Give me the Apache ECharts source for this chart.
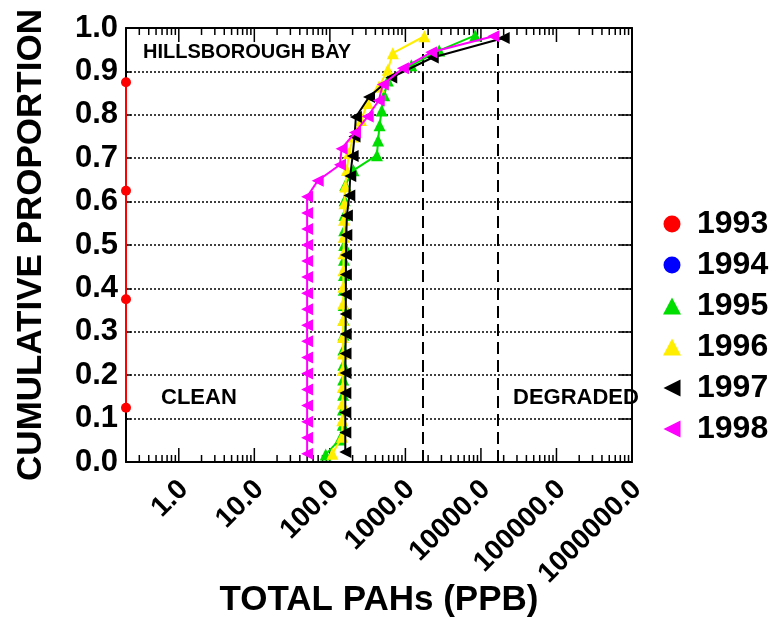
<!DOCTYPE html>
<html>
<head>
<meta charset="utf-8">
<script src="https://cdn.jsdelivr.net/npm/echarts@6/dist/echarts.min.js"></script>
<style>
  html, body { margin: 0; padding: 0; background: #fff; }
  #chart { width: 777px; height: 620px; }
</style>
</head>
<body>
<div id="chart"></div>
<script>
// years and colours of the legend
const years = ['1993', '1994', '1995', '1996', '1997', '1998'];
const colors = ['#ff0000', '#0000ff', '#00dd00', '#ffee00', '#000000', '#ff00ff'];

// [total PAHs (ppb), cumulative proportion]
const d1993 = [[0.2, 0.125], [0.2, 0.375], [0.2, 0.625], [0.2, 0.875]];
const d1994 = [];
const d1995 = [
  [88, 0.017], [135, 0.052], [148, 0.086], [149, 0.121], [150, 0.155], [150, 0.19],
  [151, 0.224], [151, 0.259], [152, 0.293], [152, 0.328], [153, 0.362], [153, 0.397],
  [154, 0.431], [154, 0.466], [155, 0.5], [155, 0.534], [156, 0.569], [157, 0.603],
  [160, 0.638], [205, 0.672], [420, 0.707], [435, 0.741], [455, 0.776], [485, 0.81],
  [525, 0.845], [585, 0.879], [1200, 0.914], [2800, 0.948], [8400, 0.983]
];
const d1996 = [
  [108, 0.019], [145, 0.058], [146, 0.096], [147, 0.135], [148, 0.173], [148, 0.212],
  [149, 0.25], [149, 0.288], [150, 0.327], [150, 0.365], [151, 0.404], [151, 0.442],
  [152, 0.481], [153, 0.519], [154, 0.558], [156, 0.596], [160, 0.635], [168, 0.673],
  [179, 0.712], [204, 0.75], [258, 0.788], [317, 0.827], [448, 0.865], [585, 0.904],
  [682, 0.942], [1780, 0.981]
];
const d1997 = [
  [160, 0.023], [160, 0.068], [160, 0.114], [160, 0.159], [161, 0.205], [161, 0.25],
  [162, 0.295], [162, 0.341], [163, 0.386], [163, 0.432], [164, 0.477], [165, 0.523],
  [168, 0.568], [181, 0.614], [186, 0.659], [200, 0.705], [212, 0.75], [221, 0.795],
  [330, 0.841], [650, 0.886], [2300, 0.932], [20000, 0.977]
];
const d1998 = [
  [50, 0.019], [50, 0.056], [50, 0.093], [50, 0.13], [50, 0.167], [50, 0.204],
  [50, 0.241], [50, 0.278], [50, 0.315], [50, 0.352], [50, 0.389], [50, 0.426],
  [50, 0.463], [50, 0.5], [50, 0.537], [50, 0.574], [50, 0.611], [69, 0.648],
  [136, 0.685], [143, 0.722], [215, 0.759], [317, 0.796], [444, 0.833], [503, 0.87],
  [927, 0.907], [2200, 0.944], [14600, 0.981]
];
const seriesData = [d1993, d1994, d1995, d1996, d1997, d1998];

// sediment guideline values drawn as dashed lines
const guidelines = [1684, 16770];

// log axis range, labelled decades and minor tick decades
const xMin = 0.2, xMax = 1000000;
const xTickValues = [1, 10, 100, 1000, 10000, 100000, 1000000];
const decades = [0.1, 1, 10, 100, 1000, 10000, 100000];
const xTicks = xTickValues.map(v => [v, 14]);
decades.forEach(d => {
  for (let k = 2; k <= 9; k++) {
    const v = d * k;
    if (v > xMin * 1.001 && v < xMax) xTicks.push([v, 7]);
  }
});

const font = '"Liberation Sans", Arial, sans-serif';
const leftTri = 'path://M0,5 L10,0 L10,10 Z';
const symbols = ['circle', 'circle', 'triangle', 'triangle', 'triangle', 'triangle'];
const rotations = [0, 0, 0, 0, 90, 90];
const legendIcons = ['circle', 'circle', 'triangle', 'triangle', leftTri, leftTri];

const chart = echarts.init(document.getElementById('chart'));

const series = years.map((y, i) => ({
  name: y,
  type: 'line',
  data: seriesData[i],
  symbol: symbols[i],
  symbolRotate: rotations[i],
  symbolSize: i < 2 ? 10 : 12,
  showAllSymbol: true,
  clip: false,
  animation: false,
  lineStyle: { color: colors[i], width: 2 },
  itemStyle: { color: colors[i] },
  z: 3 + i
}));

// dashed guideline markers
series.push({
  type: 'line',
  data: [],
  silent: true,
  animation: false,
  markLine: {
    symbol: 'none',
    silent: true,
    label: { show: false },
    lineStyle: { color: '#000', type: [12, 6], width: 2 },
    data: guidelines.map(g => ({ xAxis: g }))
  }
});

// major and minor ticks of the log axis (bottom and top, pointing inward)
series.push({
  type: 'custom',
  silent: true,
  animation: false,
  clip: false,
  z: 2,
  data: xTicks,
  renderItem: function (params, api) {
    const len = api.value(1);
    const b = api.coord([api.value(0), 0]);
    const t = api.coord([api.value(0), 1]);
    return {
      type: 'group',
      children: [
        { type: 'line', shape: { x1: b[0], y1: b[1], x2: b[0], y2: b[1] - len }, style: { stroke: '#000', lineWidth: 1.5 } },
        { type: 'line', shape: { x1: t[0], y1: t[1], x2: t[0], y2: t[1] + len }, style: { stroke: '#000', lineWidth: 1.5 } }
      ]
    };
  }
});

const xAxisBase = {
  type: 'log',
  logBase: 10,
  min: xMin,
  max: xMax,
  splitNumber: 7,
  axisLine: { show: true, onZero: false, lineStyle: { color: '#000', width: 2 } },
  axisTick: { show: false },
  splitLine: { show: false },
  minorTick: { show: false }
};

const option = {
  animation: false,
  backgroundColor: '#fff',
  grid: { left: 126, right: 145, top: 28, bottom: 158, containLabel: false, outerBoundsMode: 'none' },
  legend: {
    orient: 'vertical',
    left: 658,
    top: 203,
    itemWidth: 18,
    itemHeight: 17,
    itemGap: 9,
    symbolRotate: 0,
    selectedMode: false,
    textStyle: { fontFamily: font, fontWeight: 'bold', fontSize: 32, color: '#000', lineHeight: 32, padding: [0, 0, 0, 11] },
    data: years.map((y, i) => ({ name: y, icon: legendIcons[i] }))
  },
  xAxis: [
    Object.assign({}, xAxisBase, {
      position: 'bottom',
      name: 'TOTAL PAHs (PPB)',
      nameLocation: 'middle',
      nameGap: 121,
      nameMoveOverlap: false,
      nameTextStyle: { fontFamily: font, fontWeight: 'bold', fontSize: 35, color: '#000' },
      axisLabel: {
        show: true,
        rotate: 45,
        margin: 28,
        padding: [0, -7, 0, 0],
        customValues: xTickValues,
        fontFamily: font,
        fontWeight: 'bold',
        fontSize: 28,
        color: '#000',
        formatter: v => Number(v).toFixed(1)
      }
    }),
    Object.assign({}, xAxisBase, {
      position: 'top',
      axisLabel: { show: false }
    })
  ],
  yAxis: [
    {
      type: 'value',
      min: 0,
      max: 1,
      interval: 0.1,
      position: 'left',
      name: 'CUMULATIVE PROPORTION',
      nameLocation: 'middle',
      nameGap: 77,
      nameMoveOverlap: false,
      nameTextStyle: { fontFamily: font, fontWeight: 'bold', fontSize: 35, color: '#000' },
      axisLine: { show: true, onZero: false, lineStyle: { color: '#000', width: 2 } },
      axisTick: { show: true, inside: true, length: 5, lineStyle: { color: '#000', width: 1.5 } },
      axisLabel: {
        margin: 8,
        fontFamily: font,
        fontWeight: 'bold',
        fontSize: 31,
        color: '#000',
        formatter: v => v.toFixed(1)
      },
      splitLine: { show: true, lineStyle: { color: '#000', type: [2, 2], width: 1.5 } }
    },
    {
      type: 'value',
      min: 0,
      max: 1,
      interval: 0.1,
      position: 'right',
      axisLine: { show: true, onZero: false, lineStyle: { color: '#000', width: 2 } },
      axisTick: { show: true, inside: true, length: 13, lineStyle: { color: '#000', width: 1.5 } },
      axisLabel: { show: false },
      splitLine: { show: false }
    }
  ],
  graphic: [
    { type: 'text', left: 143, top: 42, style: { text: 'HILLSBOROUGH BAY', font: 'bold 20px ' + font, fill: '#000' } },
    { type: 'text', left: 161, top: 387, style: { text: 'CLEAN', font: 'bold 22px ' + font, fill: '#000' } },
    { type: 'text', left: 513, top: 387, style: { text: 'DEGRADED', font: 'bold 22px ' + font, fill: '#000' } }
  ],
  series: series
};

chart.setOption(option);
</script>
</body>
</html>
